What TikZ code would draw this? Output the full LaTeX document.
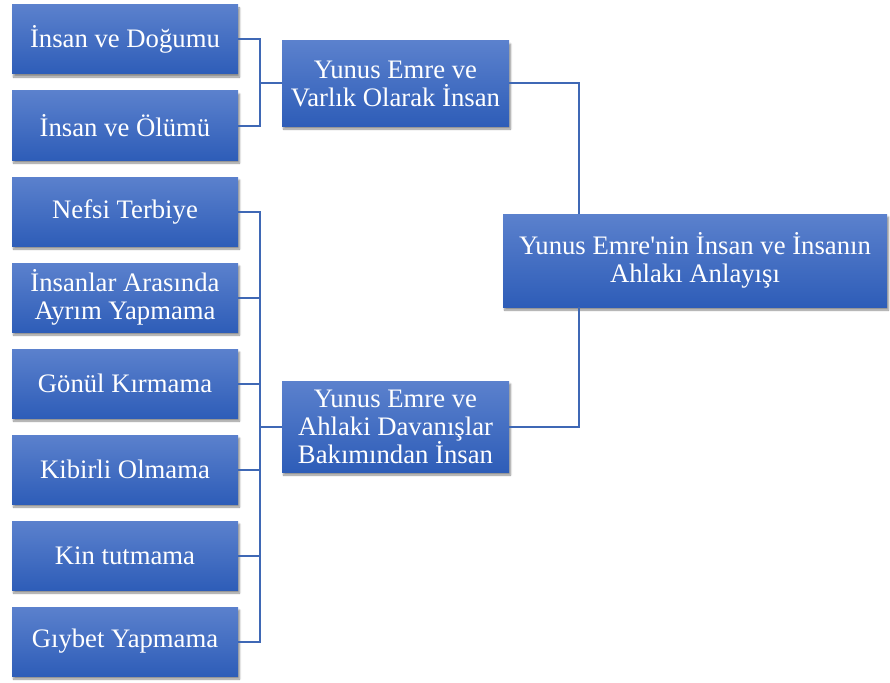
\documentclass[tikz,border=0pt]{standalone}
\usepackage{fontspec}
\setmainfont{Liberation Serif}[Ligatures=TeXOff]
\usetikzlibrary{shadows.blur}
\definecolor{boxtop}{HTML}{5B81CD}
\definecolor{boxbot}{HTML}{2E5DB8}
\definecolor{linec}{HTML}{3F68B5}
\tikzset{
  box/.style={rectangle, top color=boxtop, bottom color=boxbot, draw=none,
    text=white, align=center, inner sep=0pt,
    font=\fontsize{26.7}{28}\selectfont,
    blur shadow={shadow xshift=1.5pt, shadow yshift=-3pt, shadow blur steps=6, shadow opacity=45}},
  leaf/.style={box, minimum width=226pt, minimum height=69pt},
  conn/.style={draw=linec, line width=2pt}
}
\begin{document}
\begin{tikzpicture}[x=1pt,y=-1pt]
\useasboundingbox (0,0) rectangle (890,682);
\node[leaf] (l1) at (125,39.5) {İnsan ve Doğumu};
\node[leaf] (l2) at (125,125.5) {İnsan ve Ölümü};
\node[leaf] (l3) at (125,211.5) {Nefsi Terbiye};
\node[leaf] (l4) at (125,297.5) {İnsanlar Arasında\\Ayrım Yapmama};
\node[leaf] (l5) at (125,383.5) {Gönül Kırmama};
\node[leaf] (l6) at (125,469.5) {Kibirli Olmama};
\node[leaf] (l7) at (125,555.5) {Kin tutmama};
\node[leaf] (l8) at (125,641.5) {Gıybet Yapmama};
\node[box, minimum width=227pt, minimum height=85pt] (mA) at (395.5,83.5) {Yunus Emre ve\\Varlık Olarak İnsan};
\node[box, minimum width=227pt, minimum height=91pt] (mB) at (395.5,426.5) {Yunus Emre ve\\Ahlaki Davanışlar\\Bakımından İnsan};
\node[box, minimum width=384pt, minimum height=93pt] (R) at (695,260.5) {Yunus Emre'nin İnsan ve İnsanın\\Ahlakı Anlayışı};
\coordinate (j1) at (260,83.5);
\coordinate (j2) at (260,426.5);
\coordinate (rx) at (579,0);
\foreach \n in {l1,l2} \draw[conn] (\n.east) -| (j1);
\draw[conn] (j1) -- (mA.west);
\foreach \n in {l3,l4,l5,l6,l7,l8} \draw[conn] (\n.east) -| (j2);
\draw[conn] (j2) -- (mB.west);
\draw[conn] (mA.east) -| (R.north -| rx);
\draw[conn] (R.south -| rx) |- (mB.east);
\end{tikzpicture}
\end{document}
